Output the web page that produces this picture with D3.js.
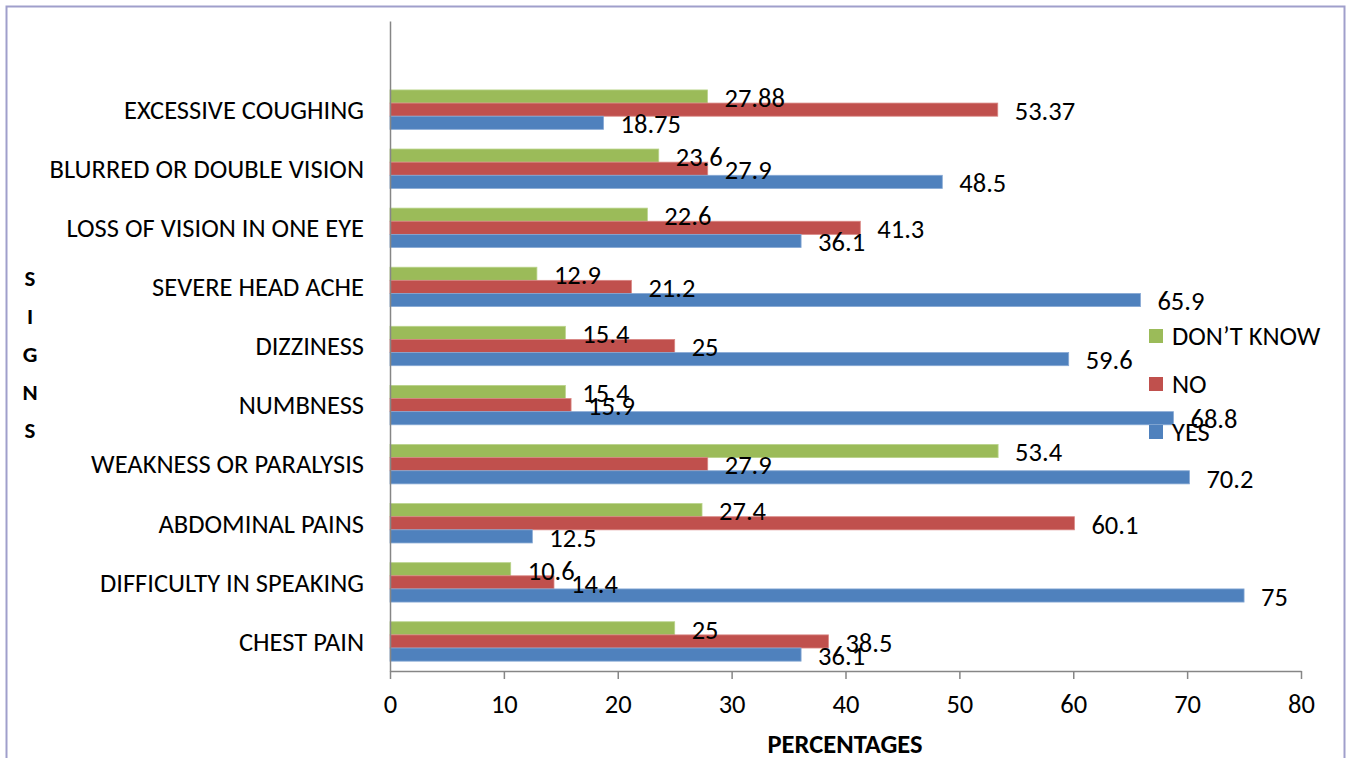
<!DOCTYPE html>
<html>
<head>
<meta charset="utf-8">
<script src="https://cdn.jsdelivr.net/npm/d3@7/dist/d3.min.js"></script>
<style>
  html, body { margin: 0; padding: 0; background: #fff; }
  svg { display: block; font-family: Carlito, "Open Sans", "Liberation Sans", sans-serif; }
</style>
</head>
<body>
<svg id="chart" width="1351" height="758"></svg>
<script>
// Stroke warning signs: share of respondents answering YES / NO / DON'T KNOW
const categories = [
  "EXCESSIVE COUGHING",
  "BLURRED OR DOUBLE VISION",
  "LOSS OF VISION IN ONE EYE",
  "SEVERE HEAD ACHE",
  "DIZZINESS",
  "NUMBNESS",
  "WEAKNESS OR PARALYSIS",
  "ABDOMINAL PAINS",
  "DIFFICULTY IN SPEAKING",
  "CHEST PAIN"
];
const yesValues      = [18.75, 48.5, 36.1, 65.9, 59.6, 68.8, 70.2, 12.5, 75, 36.1];
const noValues       = [53.37, 27.9, 41.3, 21.2, 25, 15.9, 27.9, 60.1, 14.4, 38.5];
const dontKnowValues = [27.88, 23.6, 22.6, 12.9, 15.4, 15.4, 53.4, 27.4, 10.6, 25];
const xTicks = [0, 10, 20, 30, 40, 50, 60, 70, 80];

// series drawn top-to-bottom within each category group
const series = [
  { key: "DON\u2019T KNOW", values: dontKnowValues, color: "#9BBB59", stroke: "#b9d38a" },
  { key: "NO",             values: noValues,       color: "#C0504D", stroke: "#d98683" },
  { key: "YES",            values: yesValues,      color: "#4F81BD", stroke: "#87a9d4" }
];

const FONT = "Carlito, 'Open Sans', 'Liberation Sans', sans-serif";
const TEXT_SIZE = 26.5;

const svg = d3.select("#chart");

// outer frame
svg.append("rect")
  .attr("x", 6.5).attr("y", 6.5)
  .attr("width", 1338).attr("height", 770)
  .attr("fill", "none").attr("stroke", "#a09fcb").attr("stroke-width", 2);

const plotLeft = 390, plotRight = 1301, plotTop = 21, plotBottom = 671;

const x = d3.scaleLinear().domain([0, 80]).range([plotLeft, plotRight]);

// an extra blank slot sits above the first category
const slots = [""].concat(categories);
const y = d3.scaleBand().domain(slots).range([plotTop, plotBottom]).paddingInner(0.3333).paddingOuter(0.16667);

const inner = d3.scaleBand()
  .domain(series.map(s => s.key))
  .range([0, y.bandwidth()]);

// bars
const groups = svg.append("g").selectAll("g")
  .data(categories)
  .join("g")
  .attr("transform", d => `translate(0,${y(d)})`);

series.forEach(s => {
  groups.append("rect")
    .attr("x", x(0))
    .attr("y", inner(s.key))
    .attr("width", (d, i) => x(s.values[i]) - x(0))
    .attr("height", inner.bandwidth())
    .attr("fill", s.color)
    .attr("stroke", s.stroke)
    .attr("stroke-width", 0.8);
});

// data labels
series.forEach(s => {
  groups.append("text")
    .attr("x", (d, i) => x(s.values[i]) + 17)
    .attr("y", inner(s.key) + inner.bandwidth() / 2 + 1)
    .attr("dy", "0.35em")
    .attr("font-size", TEXT_SIZE)
    .attr("fill", "#000")
    .text((d, i) => s.values[i]);
});

// x axis
const xAxis = svg.append("g")
  .attr("transform", `translate(0,${plotBottom})`)
  .call(d3.axisBottom(x).tickValues(xTicks).tickSize(8).tickPadding(15).tickSizeOuter(0));
xAxis.select(".domain").attr("stroke", "#868686").attr("stroke-width", 1.5);
xAxis.selectAll(".tick line").attr("stroke", "#868686").attr("stroke-width", 1.5);
xAxis.selectAll(".tick text").attr("font-size", TEXT_SIZE).attr("fill", "#000")
  .attr("font-family", FONT);

// y axis
const yAxis = svg.append("g")
  .attr("transform", `translate(${plotLeft},0)`)
  .call(d3.axisLeft(y).tickSize(0).tickPadding(26).tickSizeOuter(0));
yAxis.select(".domain").attr("stroke", "#868686").attr("stroke-width", 1.5);
yAxis.selectAll(".tick text").attr("font-size", TEXT_SIZE).attr("fill", "#000")
  .attr("dy", "0.35em")
  .attr("font-family", FONT);

// axis titles
svg.append("text")
  .attr("x", 845).attr("y", 752.5)
  .attr("text-anchor", "middle")
  .attr("font-size", TEXT_SIZE).attr("font-weight", "bold")
  .text("PERCENTAGES");

const yTitle = "SIGNS".split("");
svg.append("g").selectAll("text")
  .data(yTitle)
  .join("text")
  .attr("x", 30)
  .attr("y", (d, i) => 278 + i * 38)
  .attr("dy", "0.35em")
  .attr("text-anchor", "middle")
  .attr("font-size", 23).attr("font-weight", "bold")
  .text(d => d);

// legend
const legend = svg.append("g").selectAll("g")
  .data(series)
  .join("g")
  .attr("transform", (d, i) => `translate(1149,${329 + i * 48})`);
legend.append("rect")
  .attr("width", 14).attr("height", 14)
  .attr("fill", d => d.color);
legend.append("text")
  .attr("x", 23).attr("y", 7)
  .attr("dy", "0.35em")
  .attr("font-size", TEXT_SIZE)
  .text(d => d.key);
</script>
</body>
</html>
